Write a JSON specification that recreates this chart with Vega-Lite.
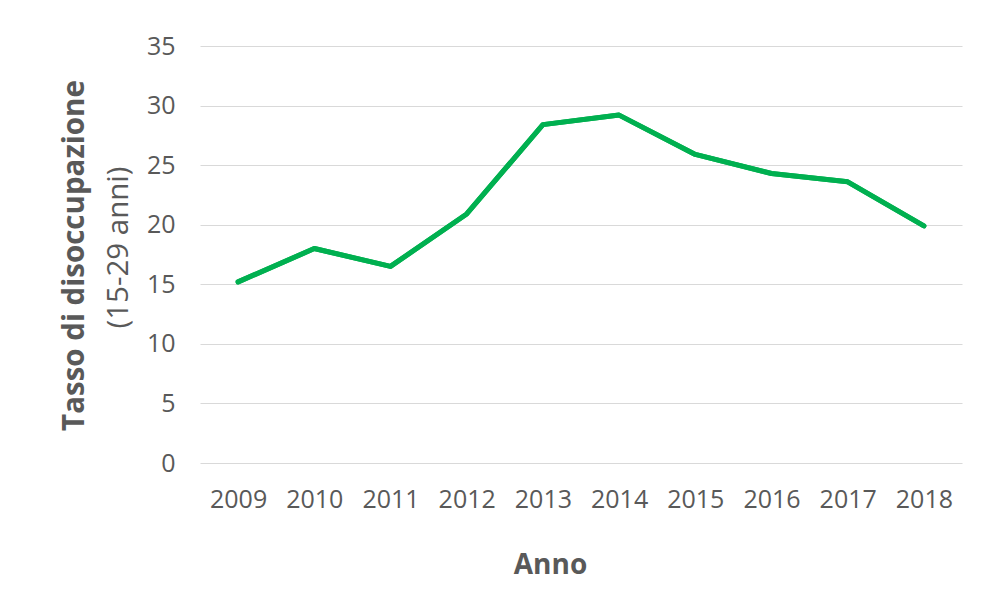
{
  "$schema": "https://vega.github.io/schema/vega-lite/v6.json",
  "width": 762,
  "height": 417,
  "autosize": {"type": "none"},
  "padding": {"left": 200, "top": 46, "right": 25, "bottom": 140},
  "background": "white",
  "config": {
    "view": {"stroke": null},
    "font": "Open Sans",
    "axis": {"labelFont": "Open Sans", "titleFont": "Open Sans", "labelColor": "#595959", "titleColor": "#595959"}
  },
  "data": {
    "values": [
      {"Anno": "2009", "Tasso": 15.2},
      {"Anno": "2010", "Tasso": 18.0},
      {"Anno": "2011", "Tasso": 16.5},
      {"Anno": "2012", "Tasso": 20.9},
      {"Anno": "2013", "Tasso": 28.4},
      {"Anno": "2014", "Tasso": 29.2},
      {"Anno": "2015", "Tasso": 25.9},
      {"Anno": "2016", "Tasso": 24.3},
      {"Anno": "2017", "Tasso": 23.6},
      {"Anno": "2018", "Tasso": 19.9}
    ]
  },
  "encoding": {
    "x": {
      "field": "Anno",
      "type": "ordinal",
      "scale": {"type": "point", "padding": 0.5},
      "axis": {
        "title": "Anno",
        "labelAngle": 0,
        "labelFontSize": 25,
        "labelPadding": 24,
        "ticks": false,
        "tickSize": 0,
        "domain": false,
        "grid": false,
        "titleFontSize": 28,
        "titleFontWeight": "bold",
        "titleX": 350,
        "titleY": 110,
        "titleBaseline": "alphabetic",
        "titleAnchor": null,
        "titleAlign": "center"
      }
    }
  },
  "layer": [
    {
      "mark": {"type": "line", "color": "#00b050", "strokeWidth": 5, "strokeCap": "round", "strokeJoin": "round"},
      "encoding": {
        "y": {
          "field": "Tasso",
          "type": "quantitative",
          "scale": {"domain": [0, 35], "nice": false},
          "axis": {
            "orient": "left",
            "title": "(15-29 anni)",
            "values": [0, 5, 10, 15, 20, 25, 30, 35],
            "labelFontSize": 25,
            "labelPadding": 25,
            "ticks": false,
            "tickSize": 0,
            "domain": false,
            "grid": true,
            "gridColor": "#d9d9d9",
            "gridWidth": 1.2,
            "titleFontSize": 29.5,
            "titleFontWeight": "normal",
            "titleX": -73,
            "titleY": 201,
            "titleAngle": -90,
            "titleBaseline": "alphabetic",
            "titleAlign": "center"
          }
        }
      }
    },
    {
      "mark": {"type": "line", "color": "#00b050", "strokeWidth": 5, "strokeCap": "round", "strokeJoin": "round"},
      "encoding": {
        "y": {
          "field": "Tasso",
          "type": "quantitative",
          "scale": {"domain": [0, 35], "nice": false},
          "axis": {
            "orient": "left",
            "title": "Tasso di disoccupazione",
            "labels": false,
            "ticks": false,
            "domain": false,
            "grid": false,
            "titleFontSize": 29.5,
            "titleFontWeight": "bold",
            "titleX": -117,
            "titleY": 209,
            "titleAngle": -90,
            "titleBaseline": "alphabetic",
            "titleAlign": "center"
          }
        }
      }
    }
  ],
  "resolve": {"scale": {"y": "independent"}, "axis": {"y": "independent"}}
}
